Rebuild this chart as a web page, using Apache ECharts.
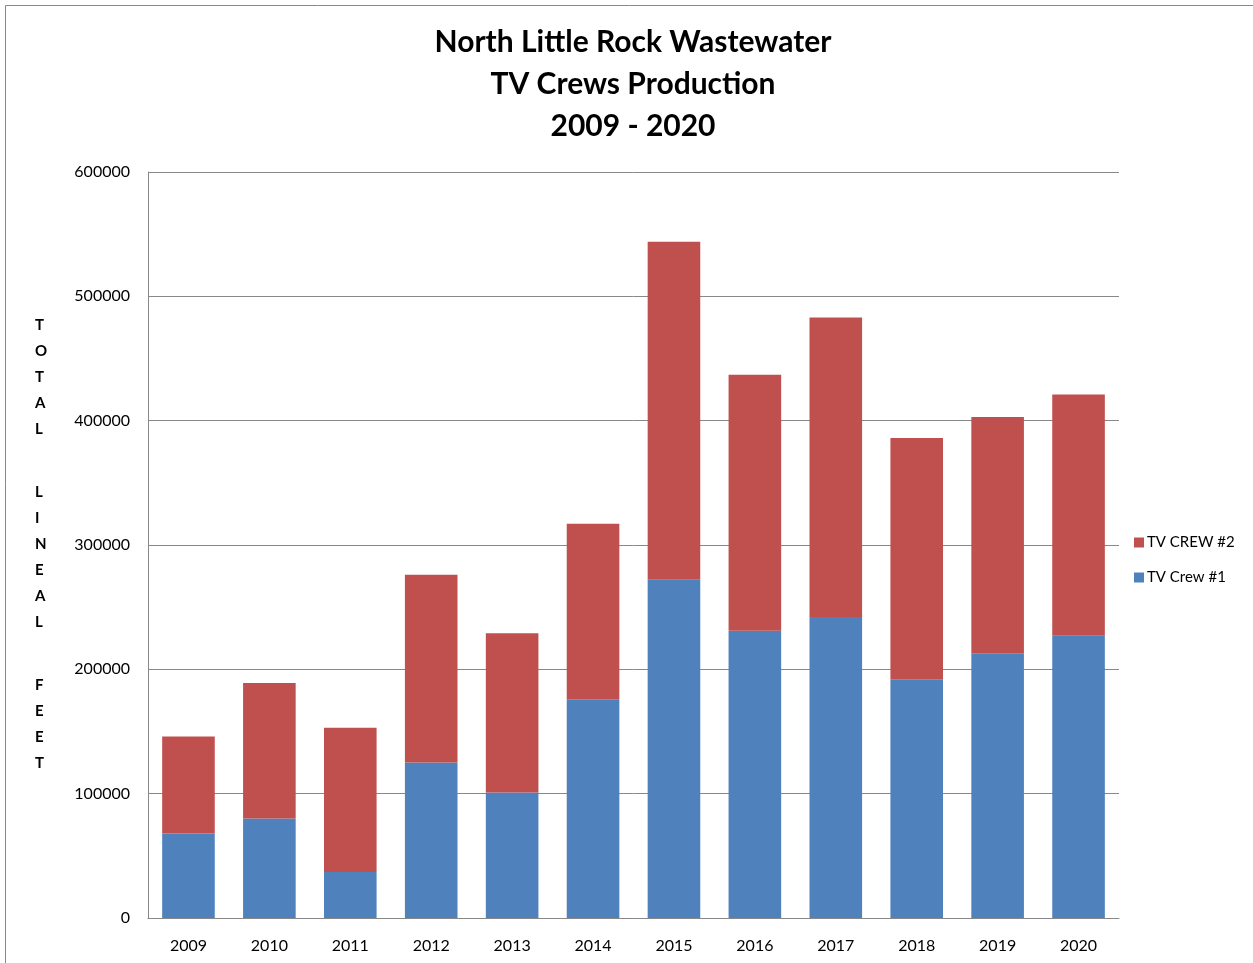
<!DOCTYPE html>
<html>
<head>
<meta charset="utf-8">
<script src="https://cdn.jsdelivr.net/npm/echarts@6/dist/echarts.min.js"></script>
<style>
  html, body { margin: 0; padding: 0; background: #fff; }
  #chart { width: 1253px; height: 963px; }
</style>
</head>
<body>
<div id="chart"></div>
<script>
// values
const years = ['2009','2010','2011','2012','2013','2014','2015','2016','2017','2018','2019','2020'];
const crew1 = [68000, 80000, 37000, 125000, 101000, 176000, 272000, 231000, 242000, 192000, 213000, 227000];
const crew2 = [78000, 109000, 116000, 151000, 128000, 141000, 272000, 206000, 241000, 194000, 190000, 194000];
const titleLines = ['North Little Rock Wastewater', 'TV Crews Production', '2009 - 2020'];
const yWords = ['TOTAL', 'LINEAL', 'FEET'];

const font = 'Lato, "Open Sans", sans-serif';
let myChart = echarts.init(document.getElementById('chart'));

// vertical letters of the y axis name, one word per block
const wordTops = [312, 479, 672];
const yNameTexts = yWords.map((w, i) => ({
  type: 'text',
  left: 35,
  top: wordTops[i],
  style: {
    text: w.split('').join('\n'),
    font: 'bold 15px ' + font,
    lineHeight: 26,
    fill: '#000',
    align: 'center'
  }
}));

const option = {
  backgroundColor: '#fff',
  animation: false,
  title: {
    text: titleLines.join('\n'),
    left: 628,
    textAlign: 'center',
    top: 16,
    textStyle: {
      fontFamily: font,
      fontWeight: 'bold',
      fontSize: 30,
      lineHeight: 42,
      color: '#000'
    }
  },
  grid: {
    left: 148,
    right: 134,
    top: 172,
    bottom: 45
  },
  legend: {
    orient: 'vertical',
    left: 1129,
    top: 530,
    itemWidth: 10,
    itemHeight: 10,
    itemGap: 20,
    icon: 'rect',
    data: ['TV CREW #2', 'TV Crew #1'],
    textStyle: { fontFamily: font, fontSize: 15, color: '#000', padding: [0, 0, 0, -2] }
  },
  xAxis: {
    type: 'category',
    data: years,
    axisLine: { lineStyle: { color: '#888' } },
    axisTick: { show: false },
    axisLabel: { fontFamily: font, fontSize: 16, color: '#000', margin: 20 }
  },
  yAxis: {
    type: 'value',
    min: 0,
    max: 600000,
    interval: 100000,
    axisLine: { show: true, lineStyle: { color: '#888' } },
    axisTick: { show: false },
    splitLine: { lineStyle: { color: '#888' } },
    axisLabel: {
      fontFamily: font, fontSize: 16, color: '#000', margin: 18,
      formatter: v => String(v)
    }
  },
  series: [
    {
      name: 'TV Crew #1',
      type: 'bar',
      stack: 'total',
      data: crew1,
      barWidth: '65%',
      itemStyle: { color: '#4F81BD' }
    },
    {
      name: 'TV CREW #2',
      type: 'bar',
      stack: 'total',
      data: crew2,
      barWidth: '65%',
      itemStyle: { color: '#C0504D' }
    }
  ],
  graphic: [
    {
      type: 'rect',
      shape: { x: 5.5, y: 5.5, width: 1300, height: 1000 },
      style: { fill: 'none', stroke: '#888', lineWidth: 1 }
    }
  ].concat(yNameTexts)
};
myChart.setOption(option);
</script>
</body>
</html>
